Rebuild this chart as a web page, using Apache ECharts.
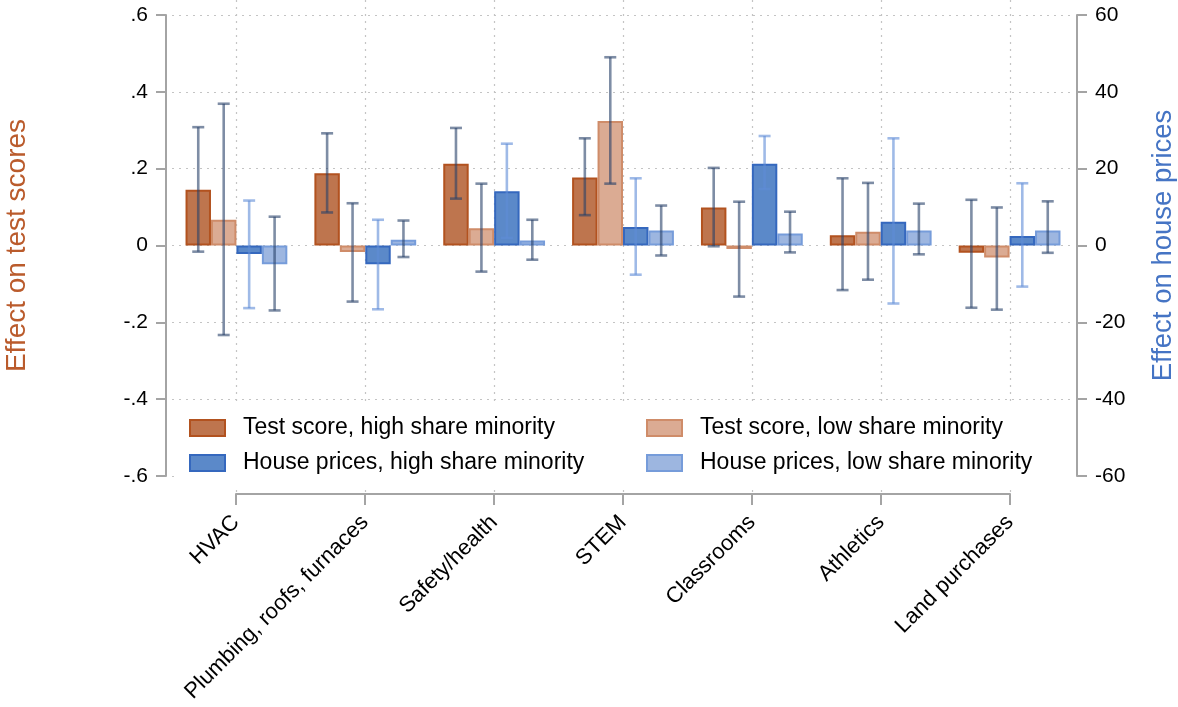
<!DOCTYPE html>
<html>
<head>
<meta charset="utf-8">
<script src="https://cdn.jsdelivr.net/npm/echarts@6/dist/echarts.min.js"></script>
<style>html,body{margin:0;padding:0;background:#fff}#chart{width:1178px;height:707px}</style>
</head>
<body>
<div id="chart"></div>
<script>
const categories = ['HVAC', 'Plumbing, roofs, furnaces', 'Safety/health', 'STEM', 'Classrooms', 'Athletics', 'Land purchases'];
const seriesNames = ['Test score, high share minority', 'Test score, low share minority', 'House prices, high share minority', 'House prices, low share minority'];

const tsHigh   = [0.145, 0.188, 0.213, 0.177, 0.099, 0.027, -0.019];
const tsHighLo = [-0.016, 0.086, 0.122, 0.079, -0.002, -0.116, -0.162];
const tsHighHi = [0.308, 0.292, 0.306, 0.279, 0.202, 0.175, 0.119];

const tsLow   = [0.067, -0.017, 0.045, 0.324, -0.009, 0.036, -0.031];
const tsLowLo = [-0.233, -0.146, -0.068, 0.161, -0.133, -0.089, -0.167];
const tsLowHi = [0.369, 0.110, 0.161, 0.490, 0.114, 0.163, 0.099];

const hpHigh   = [-2.2, -4.9, 14.1, 4.8, 21.3, 6.2, 2.5];
const hpHighLo = [-16.3, -16.6, 2.0, -7.6, 14.7, -15.1, -10.7];
const hpHighHi = [11.7, 6.7, 26.5, 17.5, 28.5, 27.9, 16.2];

const hpLow   = [-4.9, 1.5, 1.3, 3.9, 3.1, 3.9, 3.9];
const hpLowLo = [-16.9, -3.0, -3.7, -2.6, -1.8, -2.3, -1.9];
const hpLowHi = [7.5, 6.5, 6.7, 10.4, 8.8, 10.9, 11.5];

const leftTicks = [-0.6, -0.4, -0.2, 0, 0.2, 0.4, 0.6];
const leftTickLabels = ['-.6', '-.4', '-.2', '0', '.2', '.4', '.6'];
const rightTicks = [-60, -40, -20, 0, 20, 40, 60];
const rightTickLabels = ['-60', '-40', '-20', '0', '20', '40', '60'];

const FONT = 'Liberation Sans, Arial, Helvetica, sans-serif';
const AXIS_GRAY = '#A4A4A4';
const GRID_GRAY = '#C4C4C4';
const CAT_GAP = 0.21;

const fills   = ['#BE754E', '#DBAB93', '#5B89C9', '#9DB6E0'];
const borders = ['#B2521F', '#CF8C69', '#3568BE', '#769CDA'];
const errColors = ['rgba(40,65,105,0.6)', 'rgba(40,65,105,0.6)', 'rgba(95,140,215,0.6)', 'rgba(40,65,105,0.6)'];

const values = [tsHigh, tsLow, hpHigh, hpLow];
const lows = [tsHighLo, tsLowLo, hpHighLo, hpLowLo];
const highs = [tsHighHi, tsLowHi, hpHighHi, hpLowHi];
const yIdx = [0, 0, 1, 1];

function labelFor(ticks, labels) {
  return function (v) {
    for (let i = 0; i < ticks.length; i++) {
      if (Math.abs(ticks[i] - v) < 1e-6) return labels[i];
    }
    return '';
  };
}

const barSeries = values.map((vals, s) => ({
  name: seriesNames[s],
  type: 'bar',
  xAxisIndex: 0,
  yAxisIndex: yIdx[s],
  data: vals,
  barGap: '0%',
  barCategoryGap: (CAT_GAP * 100) + '%',
  itemStyle: { color: fills[s], borderColor: borders[s], borderWidth: 2 },
  z: 2
}));

const errSeries = values.map((vals, s) => ({
  name: 'err' + s,
  type: 'custom',
  xAxisIndex: 0,
  yAxisIndex: yIdx[s],
  z: 5,
  data: vals.map((v, i) => [i, lows[s][i], highs[s][i]]),
  renderItem: function (params, api) {
    const x = api.value(0);
    const lo = api.value(1);
    const hi = api.value(2);
    const band = api.size([1, 0])[0];
    const bw = band * (1 - CAT_GAP) / 4;
    const off = (s - 1.5) * bw;
    const pHi = api.coord([x, hi]);
    const pLo = api.coord([x, lo]);
    const cx = pHi[0] + off;
    const cap = 6;
    const st = { stroke: errColors[s], lineWidth: 2.6 };
    return {
      type: 'group',
      children: [
        { type: 'line', shape: { x1: cx, y1: pHi[1], x2: cx, y2: pLo[1] }, style: st },
        { type: 'line', shape: { x1: cx - cap, y1: pHi[1], x2: cx + cap, y2: pHi[1] }, style: st },
        { type: 'line', shape: { x1: cx - cap, y1: pLo[1], x2: cx + cap, y2: pLo[1] }, style: st }
      ]
    };
  }
}));

const chart = echarts.init(document.getElementById('chart'), null, { renderer: 'canvas' });
chart.setOption({
  animation: false,
  backgroundColor: '#fff',
  textStyle: { fontFamily: FONT },
  grid: [
    { left: 172, right: 104, top: 15, bottom: 231, outerBoundsMode: 'none', containLabel: false },
    { left: 236, right: 168, top: 0, bottom: 213, outerBoundsMode: 'none', containLabel: false }
  ],
  xAxis: [
    { gridIndex: 0, type: 'category', data: categories, boundaryGap: true, show: false },
    {
      gridIndex: 1, type: 'category', data: categories, boundaryGap: false,
      axisLine: { show: true, lineStyle: { color: AXIS_GRAY, width: 2 } },
      axisTick: { show: true, length: 11, lineStyle: { color: AXIS_GRAY, width: 2 } },
      axisLabel: { rotate: 45, fontSize: 22, color: '#000', margin: 25, fontFamily: FONT, interval: 0 },
      splitLine: { show: true, lineStyle: { color: GRID_GRAY, width: 1.2, type: [2, 5] } }
    }
  ],
  yAxis: [
    {
      gridIndex: 0, type: 'value', position: 'left', offset: 6,
      min: -0.6, max: 0.6, interval: 0.2,
      name: 'Effect on test scores', nameLocation: 'middle', nameGap: 135,
      nameTextStyle: { color: '#BA5B2C', fontSize: 28, fontFamily: FONT },
      axisLine: { show: true, lineStyle: { color: AXIS_GRAY, width: 2 } },
      axisTick: { show: true, length: 10, lineStyle: { color: AXIS_GRAY, width: 2 } },
      axisLabel: { fontSize: 21, color: '#000', margin: 18, fontFamily: FONT, formatter: labelFor(leftTicks, leftTickLabels) },
      splitLine: { show: true, lineStyle: { color: GRID_GRAY, width: 1.2, type: [2, 5] } }
    },
    {
      gridIndex: 0, type: 'value', position: 'right', offset: 3,
      min: -60, max: 60, interval: 20,
      name: 'Effect on house prices', nameLocation: 'middle', nameGap: 72,
      nameTextStyle: { color: '#4574C4', fontSize: 27.5, fontFamily: FONT },
      axisLine: { show: true, lineStyle: { color: AXIS_GRAY, width: 2 } },
      axisTick: { show: true, length: 10, lineStyle: { color: AXIS_GRAY, width: 2 } },
      axisLabel: { fontSize: 21, color: '#000', margin: 18, fontFamily: FONT, formatter: labelFor(rightTicks, rightTickLabels) },
      splitLine: { show: false }
    },
    { gridIndex: 1, type: 'value', show: false, min: 0, max: 1 }
  ],
  graphic: [
    { type: 'rect', z: 1, shape: { x: 174, y: 401, width: 898, height: 86 }, style: { fill: '#fff' }, silent: true }
  ],
  legend: [
    {
      left: 184, top: 411, orient: 'vertical', itemWidth: 35, itemHeight: 16, itemGap: 11,
      icon: 'rect', data: [seriesNames[0], seriesNames[2]], z: 10,
      textStyle: { fontSize: 23, color: '#000', fontFamily: FONT, lineHeight: 24, padding: [0, 0, 0, 13] }
    },
    {
      left: 641, top: 411, orient: 'vertical', itemWidth: 35, itemHeight: 16, itemGap: 11,
      icon: 'rect', data: [seriesNames[1], seriesNames[3]], z: 10,
      textStyle: { fontSize: 23, color: '#000', fontFamily: FONT, lineHeight: 24, padding: [0, 0, 0, 13] }
    }
  ],
  series: barSeries.concat(errSeries)
});
</script>
</body>
</html>
